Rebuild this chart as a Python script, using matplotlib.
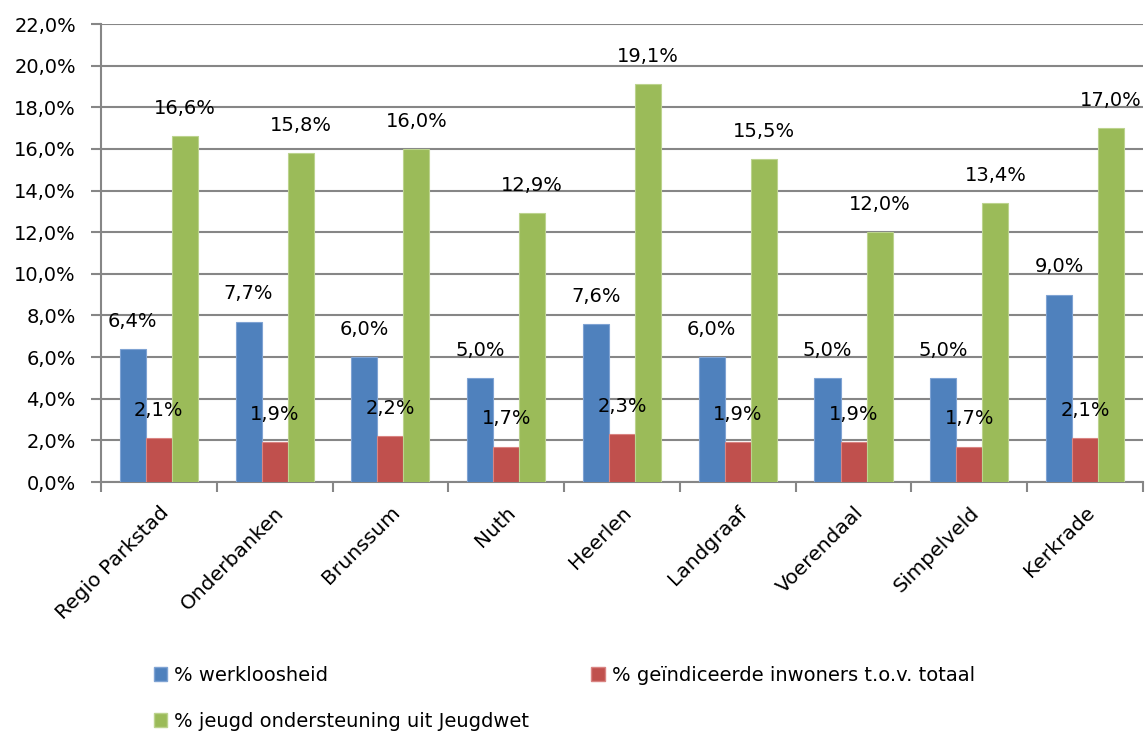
import matplotlib
matplotlib.use("Agg")
import matplotlib.pyplot as plt
import numpy as np
from matplotlib.patches import Patch

plt.rcParams["font.family"] = ["DejaVu Sans"]

gemeenten = ["Regio Parkstad", "Onderbanken", "Brunssum", "Nuth", "Heerlen",
             "Landgraaf", "Voerendaal", "Simpelveld", "Kerkrade"]
werkloosheid = [6.4, 7.7, 6.0, 5.0, 7.6, 6.0, 5.0, 5.0, 9.0]
geindiceerd = [2.1, 1.9, 2.2, 1.7, 2.3, 1.9, 1.9, 1.7, 2.1]
jeugdwet = [16.6, 15.8, 16.0, 12.9, 19.1, 15.5, 12.0, 13.4, 17.0]

reeksen = [
    ("% werkloosheid", werkloosheid, "#4F81BD", "#7FA3D3"),
    ("% geïndiceerde inwoners t.o.v. totaal", geindiceerd, "#C0504D", "#D98482"),
    ("% jeugd ondersteuning uit Jeugdwet", jeugdwet, "#9BBB59", "#BCD38E"),
]


def pct(v):
    return f"{v:.1f}%".replace(".", ",")


fs = 14
fig = plt.figure(figsize=(11.47, 7.35), dpi=100)
ax = fig.add_axes([0.088, 0.3442, 0.9085, 0.6231])

x = np.arange(len(gemeenten))
w = 0.225
grid_c = "#868686"

for i, (naam, vals, kleur, rand) in enumerate(reeksen):
    pos = x + (i - 1) * w
    ax.bar(pos, vals, width=w, color=kleur, edgecolor=rand, linewidth=0.8, zorder=3)
    for px, v in zip(pos, vals):
        ax.annotate(pct(v), (px, v), xytext=(0, 20), textcoords="offset points",
                    ha="center", va="center", fontsize=fs, color="black", zorder=5)

ax.set_xlim(-0.5, len(gemeenten) - 0.5)
ax.set_ylim(0, 22)
ax.set_yticks(np.arange(0, 22.1, 2))
ax.set_yticklabels([pct(v) for v in np.arange(0, 22.1, 2)], fontsize=fs)
ax.yaxis.grid(True, color=grid_c, linewidth=1.5, zorder=0)
ax.set_axisbelow(True)

# category ticks sit between the groups, labels under each group
ax.set_xticks(np.arange(-0.5, len(gemeenten)), minor=False)
ax.set_xticklabels([])
ax.set_xticks(x, minor=True)
ax.set_xticklabels(gemeenten, minor=True, rotation=45, ha="right",
                   rotation_mode="anchor", fontsize=14.6)
ax.tick_params(axis="x", which="minor", length=0, pad=15)
ax.tick_params(axis="x", which="major", length=7, width=1.5, color=grid_c)
ax.tick_params(axis="y", length=7, width=1.5, color=grid_c, pad=11)

for s in ["top", "right"]:
    ax.spines[s].set_visible(False)
for s in ["left", "bottom"]:
    ax.spines[s].set_color(grid_c)
    ax.spines[s].set_linewidth(1.5)

# legend rows: werkloosheid | geindiceerd, then jeugdwet
handles = [Patch(facecolor=k, edgecolor=r, label=n) for n, _, k, r in reeksen]
handles = [handles[0], handles[2], handles[1]]
fig.legend(handles=handles, loc="center left", bbox_to_anchor=(0.134, 0.05),
           ncol=2, frameon=False, fontsize=fs, handlelength=0.7,
           handleheight=0.7, handletextpad=0.35, columnspacing=3.2,
           labelspacing=1.4, borderaxespad=0, borderpad=0)

fig.savefig("out.png", dpi=100)
